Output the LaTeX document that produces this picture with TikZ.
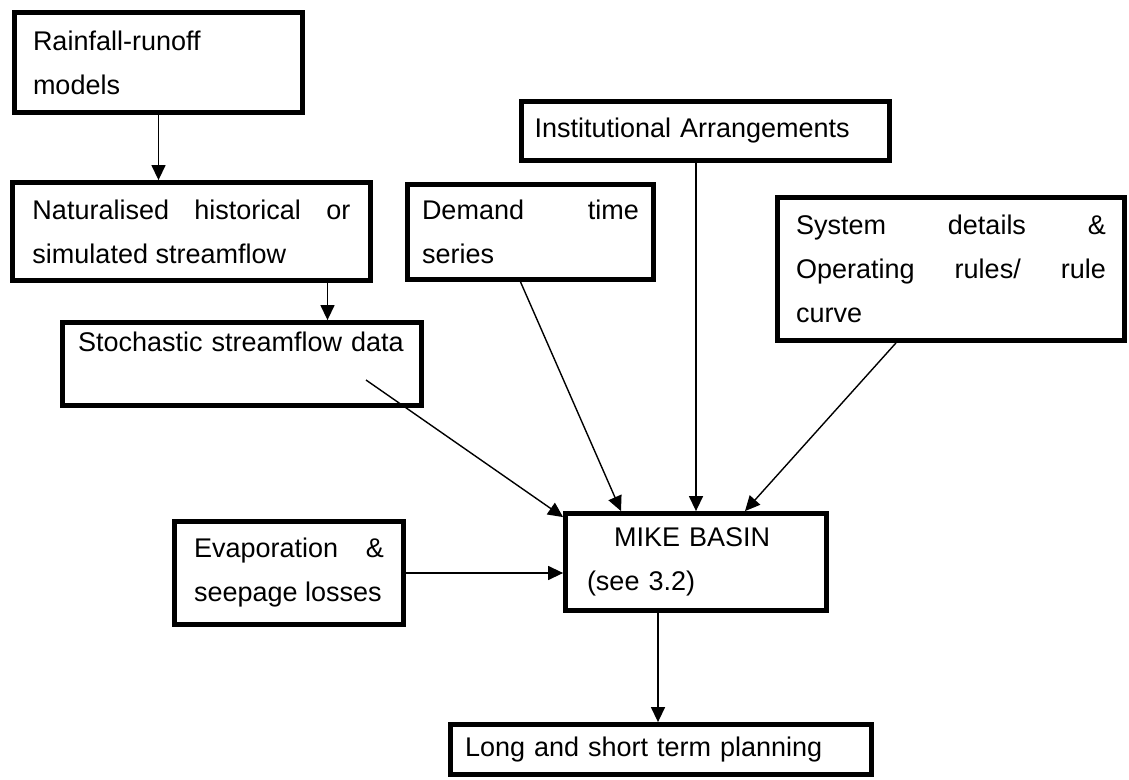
\documentclass[tikz,border=0pt]{standalone}
\usepackage{fontspec}
\setmainfont{Liberation Sans}
\usetikzlibrary{arrows.meta}

\begin{document}
\begin{tikzpicture}
[x=0.5pt,y=-0.5pt,>={Triangle[length=7.5pt,width=7pt]},
box/.style = {draw, line width=2.4pt, inner sep=0pt, font=\fontsize{13.5}{22}\selectfont},
arr/.style = {->, line width=0.7pt},]
\useasboundingbox (0,0) rectangle (1129,780);

\node (rain) at (158.5,62.5)[box,minimum width=144pt,minimum height=50pt,text width=125.5pt,align=left] {Rainfall-runoff\\models};
\node (nat) at (191.5,231.5)[box,minimum width=179pt,minimum height=49pt,text width=159pt,align=justify] {Naturalised historical or\linebreak simulated streamflow};
\node (stoch) at (242,364)[box,minimum width=179.5pt,minimum height=41.5pt,text width=164pt,align=left] {Stochastic streamflow data\\\mbox{}};
\node (demand) at (530.5,232)[box,minimum width=123pt,minimum height=47.5pt,text width=108.5pt,align=justify] {Demand time\linebreak series};
\node (inst) at (705.5,131)[box,minimum width=184pt,minimum height=29.5pt,text width=171pt,align=left] {Institutional Arrangements};
\node (sys) at (951,269)[box,minimum width=173.5pt,minimum height=71.5pt,text width=155pt,align=justify] {System details \&\linebreak Operating rules/ rule\linebreak curve};
\node (evap) at (289,573)[box,minimum width=114.5pt,minimum height=51.5pt,text width=95pt,align=justify] {Evaporation \&\linebreak seepage losses};
\node (mike) at (696,562)[box,minimum width=130.5pt,minimum height=48.5pt,text width=109pt,align=left] {\hspace*{1em}MIKE BASIN\\(see 3.2)};
\node (plan) at (661,749.5)[box,minimum width=210.5pt,minimum height=25pt,text width=196pt,align=left] {Long and short term planning};

\coordinate (stochout) at (366,380);

\draw[arr] (rain) -- (rain |- nat.north);
\draw[arr] ([xshift=68pt]nat.south) -- ([xshift=68pt]nat.south |- stoch.north);
\draw[arr] (stochout) -- ([yshift=-3pt]mike.north west);
\draw[arr] ([xshift=-5pt]demand.south) -- ([xshift=-37.5pt]mike.north);
\draw[arr] (inst.south -| mike.north) -- (mike.north);
\draw[arr] ([xshift=-27.5pt]sys.south) -- ([xshift=24.5pt]mike.north);
\draw[arr] (evap.east) -- (evap.east -| mike.west);
\draw[arr] ([xshift=-19pt]mike.south) -- ([xshift=-19pt]mike.south |- plan.north);

\end{tikzpicture}
\end{document}
